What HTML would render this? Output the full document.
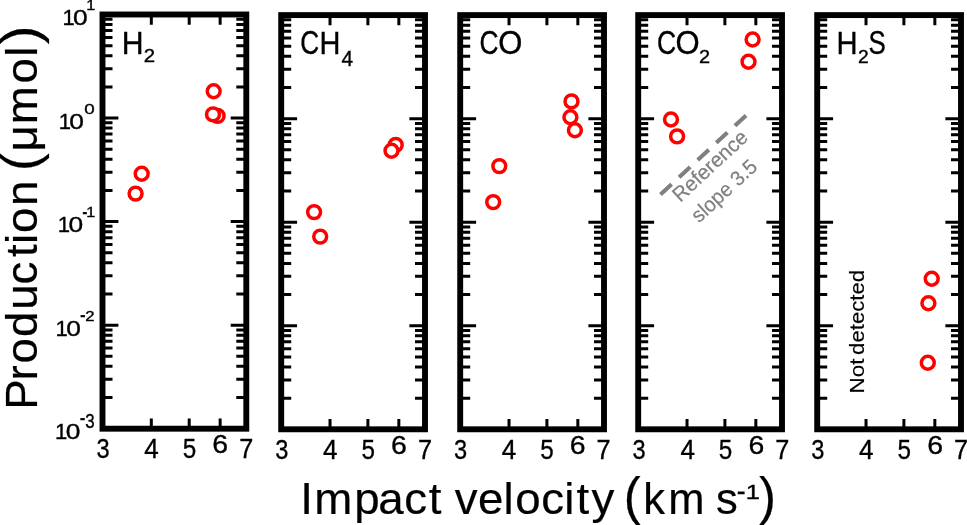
<!DOCTYPE html>
<html lang="en"><head><meta charset="utf-8"><title>Gas production vs impact velocity</title>
<style>
html,body{margin:0;padding:0;background:#fff}
body{width:967px;height:525px;overflow:hidden}
svg{display:block}
text{font-family:"Liberation Sans",sans-serif;white-space:pre}
</style></head><body>
<svg width="967" height="525" viewBox="0 0 967 525">
<rect width="967" height="525" fill="#fff"/>
<g transform="translate(0.0,0.3)"><path d="M102.5,397.23h10M246.3,397.23h-10M102.5,378.99h10M246.3,378.99h-10M102.5,366.06h10M246.3,366.06h-10M102.5,356.02h10M246.3,356.02h-10M102.5,347.82h10M246.3,347.82h-10M102.5,340.89h10M246.3,340.89h-10M102.5,334.89h10M246.3,334.89h-10M102.5,329.59h10M246.3,329.59h-10M102.5,293.68h10M246.3,293.68h-10M102.5,275.44h10M246.3,275.44h-10M102.5,262.51h10M246.3,262.51h-10M102.5,252.47h10M246.3,252.47h-10M102.5,244.27h10M246.3,244.27h-10M102.5,237.34h10M246.3,237.34h-10M102.5,231.34h10M246.3,231.34h-10M102.5,226.04h10M246.3,226.04h-10M102.5,190.13h10M246.3,190.13h-10M102.5,171.89h10M246.3,171.89h-10M102.5,158.96h10M246.3,158.96h-10M102.5,148.92h10M246.3,148.92h-10M102.5,140.72h10M246.3,140.72h-10M102.5,133.79h10M246.3,133.79h-10M102.5,127.79h10M246.3,127.79h-10M102.5,122.49h10M246.3,122.49h-10M102.5,86.58h10M246.3,86.58h-10M102.5,68.34h10M246.3,68.34h-10M102.5,55.41h10M246.3,55.41h-10M102.5,45.37h10M246.3,45.37h-10M102.5,37.17h10M246.3,37.17h-10M102.5,30.24h10M246.3,30.24h-10M102.5,24.24h10M246.3,24.24h-10M102.5,18.94h10M246.3,18.94h-10M102.5,324.85h15.9M246.3,324.85h-15.6M102.5,221.30h15.9M246.3,221.30h-15.6M102.5,117.75h15.9M246.3,117.75h-15.6M151.32,14.2v10.2M151.32,428.4v-10.2M189.20,14.2v10.2M189.20,428.4v-10.2M220.14,14.2v10.2M220.14,428.4v-10.2" stroke="#000" stroke-width="3.0" fill="none"/><rect x="102.5" y="14.2" width="143.80" height="414.20" fill="none" stroke="#000" stroke-width="5.9"/></g>
<g transform="translate(178.7,0.9)"><path d="M102.5,397.23h10M246.3,397.23h-10M102.5,378.99h10M246.3,378.99h-10M102.5,366.06h10M246.3,366.06h-10M102.5,356.02h10M246.3,356.02h-10M102.5,347.82h10M246.3,347.82h-10M102.5,340.89h10M246.3,340.89h-10M102.5,334.89h10M246.3,334.89h-10M102.5,329.59h10M246.3,329.59h-10M102.5,293.68h10M246.3,293.68h-10M102.5,275.44h10M246.3,275.44h-10M102.5,262.51h10M246.3,262.51h-10M102.5,252.47h10M246.3,252.47h-10M102.5,244.27h10M246.3,244.27h-10M102.5,237.34h10M246.3,237.34h-10M102.5,231.34h10M246.3,231.34h-10M102.5,226.04h10M246.3,226.04h-10M102.5,190.13h10M246.3,190.13h-10M102.5,171.89h10M246.3,171.89h-10M102.5,158.96h10M246.3,158.96h-10M102.5,148.92h10M246.3,148.92h-10M102.5,140.72h10M246.3,140.72h-10M102.5,133.79h10M246.3,133.79h-10M102.5,127.79h10M246.3,127.79h-10M102.5,122.49h10M246.3,122.49h-10M102.5,86.58h10M246.3,86.58h-10M102.5,68.34h10M246.3,68.34h-10M102.5,55.41h10M246.3,55.41h-10M102.5,45.37h10M246.3,45.37h-10M102.5,37.17h10M246.3,37.17h-10M102.5,30.24h10M246.3,30.24h-10M102.5,24.24h10M246.3,24.24h-10M102.5,18.94h10M246.3,18.94h-10M102.5,324.85h15.9M246.3,324.85h-15.6M102.5,221.30h15.9M246.3,221.30h-15.6M102.5,117.75h15.9M246.3,117.75h-15.6M151.32,14.2v10.2M151.32,428.4v-10.2M189.20,14.2v10.2M189.20,428.4v-10.2M220.14,14.2v10.2M220.14,428.4v-10.2" stroke="#000" stroke-width="3.0" fill="none"/><rect x="102.5" y="14.2" width="143.80" height="414.20" fill="none" stroke="#000" stroke-width="5.9"/></g>
<g transform="translate(357.7,0.9)"><path d="M102.5,397.23h10M246.3,397.23h-10M102.5,378.99h10M246.3,378.99h-10M102.5,366.06h10M246.3,366.06h-10M102.5,356.02h10M246.3,356.02h-10M102.5,347.82h10M246.3,347.82h-10M102.5,340.89h10M246.3,340.89h-10M102.5,334.89h10M246.3,334.89h-10M102.5,329.59h10M246.3,329.59h-10M102.5,293.68h10M246.3,293.68h-10M102.5,275.44h10M246.3,275.44h-10M102.5,262.51h10M246.3,262.51h-10M102.5,252.47h10M246.3,252.47h-10M102.5,244.27h10M246.3,244.27h-10M102.5,237.34h10M246.3,237.34h-10M102.5,231.34h10M246.3,231.34h-10M102.5,226.04h10M246.3,226.04h-10M102.5,190.13h10M246.3,190.13h-10M102.5,171.89h10M246.3,171.89h-10M102.5,158.96h10M246.3,158.96h-10M102.5,148.92h10M246.3,148.92h-10M102.5,140.72h10M246.3,140.72h-10M102.5,133.79h10M246.3,133.79h-10M102.5,127.79h10M246.3,127.79h-10M102.5,122.49h10M246.3,122.49h-10M102.5,86.58h10M246.3,86.58h-10M102.5,68.34h10M246.3,68.34h-10M102.5,55.41h10M246.3,55.41h-10M102.5,45.37h10M246.3,45.37h-10M102.5,37.17h10M246.3,37.17h-10M102.5,30.24h10M246.3,30.24h-10M102.5,24.24h10M246.3,24.24h-10M102.5,18.94h10M246.3,18.94h-10M102.5,324.85h15.9M246.3,324.85h-15.6M102.5,221.30h15.9M246.3,221.30h-15.6M102.5,117.75h15.9M246.3,117.75h-15.6M151.32,14.2v10.2M151.32,428.4v-10.2M189.20,14.2v10.2M189.20,428.4v-10.2M220.14,14.2v10.2M220.14,428.4v-10.2" stroke="#000" stroke-width="3.0" fill="none"/><rect x="102.5" y="14.2" width="143.80" height="414.20" fill="none" stroke="#000" stroke-width="5.9"/></g>
<g transform="translate(535.7,0.9)"><path d="M102.5,397.23h10M246.3,397.23h-10M102.5,378.99h10M246.3,378.99h-10M102.5,366.06h10M246.3,366.06h-10M102.5,356.02h10M246.3,356.02h-10M102.5,347.82h10M246.3,347.82h-10M102.5,340.89h10M246.3,340.89h-10M102.5,334.89h10M246.3,334.89h-10M102.5,329.59h10M246.3,329.59h-10M102.5,293.68h10M246.3,293.68h-10M102.5,275.44h10M246.3,275.44h-10M102.5,262.51h10M246.3,262.51h-10M102.5,252.47h10M246.3,252.47h-10M102.5,244.27h10M246.3,244.27h-10M102.5,237.34h10M246.3,237.34h-10M102.5,231.34h10M246.3,231.34h-10M102.5,226.04h10M246.3,226.04h-10M102.5,190.13h10M246.3,190.13h-10M102.5,171.89h10M246.3,171.89h-10M102.5,158.96h10M246.3,158.96h-10M102.5,148.92h10M246.3,148.92h-10M102.5,140.72h10M246.3,140.72h-10M102.5,133.79h10M246.3,133.79h-10M102.5,127.79h10M246.3,127.79h-10M102.5,122.49h10M246.3,122.49h-10M102.5,86.58h10M246.3,86.58h-10M102.5,68.34h10M246.3,68.34h-10M102.5,55.41h10M246.3,55.41h-10M102.5,45.37h10M246.3,45.37h-10M102.5,37.17h10M246.3,37.17h-10M102.5,30.24h10M246.3,30.24h-10M102.5,24.24h10M246.3,24.24h-10M102.5,18.94h10M246.3,18.94h-10M102.5,324.85h15.9M246.3,324.85h-15.6M102.5,221.30h15.9M246.3,221.30h-15.6M102.5,117.75h15.9M246.3,117.75h-15.6M151.32,14.2v10.2M151.32,428.4v-10.2M189.20,14.2v10.2M189.20,428.4v-10.2M220.14,14.2v10.2M220.14,428.4v-10.2" stroke="#000" stroke-width="3.0" fill="none"/><rect x="102.5" y="14.2" width="143.80" height="414.20" fill="none" stroke="#000" stroke-width="5.9"/></g>
<g transform="translate(714.7,0.9)"><path d="M102.5,397.23h10M246.3,397.23h-10M102.5,378.99h10M246.3,378.99h-10M102.5,366.06h10M246.3,366.06h-10M102.5,356.02h10M246.3,356.02h-10M102.5,347.82h10M246.3,347.82h-10M102.5,340.89h10M246.3,340.89h-10M102.5,334.89h10M246.3,334.89h-10M102.5,329.59h10M246.3,329.59h-10M102.5,293.68h10M246.3,293.68h-10M102.5,275.44h10M246.3,275.44h-10M102.5,262.51h10M246.3,262.51h-10M102.5,252.47h10M246.3,252.47h-10M102.5,244.27h10M246.3,244.27h-10M102.5,237.34h10M246.3,237.34h-10M102.5,231.34h10M246.3,231.34h-10M102.5,226.04h10M246.3,226.04h-10M102.5,190.13h10M246.3,190.13h-10M102.5,171.89h10M246.3,171.89h-10M102.5,158.96h10M246.3,158.96h-10M102.5,148.92h10M246.3,148.92h-10M102.5,140.72h10M246.3,140.72h-10M102.5,133.79h10M246.3,133.79h-10M102.5,127.79h10M246.3,127.79h-10M102.5,122.49h10M246.3,122.49h-10M102.5,86.58h10M246.3,86.58h-10M102.5,68.34h10M246.3,68.34h-10M102.5,55.41h10M246.3,55.41h-10M102.5,45.37h10M246.3,45.37h-10M102.5,37.17h10M246.3,37.17h-10M102.5,30.24h10M246.3,30.24h-10M102.5,24.24h10M246.3,24.24h-10M102.5,18.94h10M246.3,18.94h-10M102.5,324.85h15.9M246.3,324.85h-15.6M102.5,221.30h15.9M246.3,221.30h-15.6M102.5,117.75h15.9M246.3,117.75h-15.6M151.32,14.2v10.2M151.32,428.4v-10.2M189.20,14.2v10.2M189.20,428.4v-10.2M220.14,14.2v10.2M220.14,428.4v-10.2" stroke="#000" stroke-width="3.0" fill="none"/><rect x="102.5" y="14.2" width="143.80" height="414.20" fill="none" stroke="#000" stroke-width="5.9"/></g>
<text fill="#000" stroke="#000"><tspan x="96.50" y="458.41" font-size="28.53" textLength="13.14" lengthAdjust="spacingAndGlyphs" stroke-width="0.35">3</tspan></text>
<text fill="#000" stroke="#000"><tspan x="144.30" y="457.90" font-size="27.33" textLength="14.46" lengthAdjust="spacingAndGlyphs" stroke-width="0.35">4</tspan></text>
<text fill="#000" stroke="#000"><tspan x="182.73" y="458.42" font-size="28.37" textLength="13.49" lengthAdjust="spacingAndGlyphs" stroke-width="0.35">5</tspan></text>
<text fill="#000" stroke="#000"><tspan x="212.35" y="453.33" font-size="26.55" textLength="15.80" lengthAdjust="spacingAndGlyphs" stroke-width="0.35">6</tspan></text>
<text fill="#000" stroke="#000"><tspan x="239.21" y="458.20" font-size="27.62" textLength="14.06" lengthAdjust="spacingAndGlyphs" stroke-width="0.35">7</tspan></text>
<text fill="#000" stroke="#000"><tspan x="275.20" y="459.11" font-size="28.53" textLength="13.14" lengthAdjust="spacingAndGlyphs" stroke-width="0.35">3</tspan></text>
<text fill="#000" stroke="#000"><tspan x="323.00" y="458.60" font-size="27.33" textLength="14.46" lengthAdjust="spacingAndGlyphs" stroke-width="0.35">4</tspan></text>
<text fill="#000" stroke="#000"><tspan x="361.43" y="459.12" font-size="28.37" textLength="13.49" lengthAdjust="spacingAndGlyphs" stroke-width="0.35">5</tspan></text>
<text fill="#000" stroke="#000"><tspan x="391.05" y="454.03" font-size="26.55" textLength="15.80" lengthAdjust="spacingAndGlyphs" stroke-width="0.35">6</tspan></text>
<text fill="#000" stroke="#000"><tspan x="417.91" y="458.90" font-size="27.62" textLength="14.06" lengthAdjust="spacingAndGlyphs" stroke-width="0.35">7</tspan></text>
<text fill="#000" stroke="#000"><tspan x="453.90" y="459.11" font-size="28.53" textLength="13.14" lengthAdjust="spacingAndGlyphs" stroke-width="0.35">3</tspan></text>
<text fill="#000" stroke="#000"><tspan x="501.70" y="458.60" font-size="27.33" textLength="14.46" lengthAdjust="spacingAndGlyphs" stroke-width="0.35">4</tspan></text>
<text fill="#000" stroke="#000"><tspan x="540.13" y="459.12" font-size="28.37" textLength="13.49" lengthAdjust="spacingAndGlyphs" stroke-width="0.35">5</tspan></text>
<text fill="#000" stroke="#000"><tspan x="569.75" y="454.03" font-size="26.55" textLength="15.80" lengthAdjust="spacingAndGlyphs" stroke-width="0.35">6</tspan></text>
<text fill="#000" stroke="#000"><tspan x="596.61" y="458.90" font-size="27.62" textLength="14.06" lengthAdjust="spacingAndGlyphs" stroke-width="0.35">7</tspan></text>
<text fill="#000" stroke="#000"><tspan x="632.60" y="459.11" font-size="28.53" textLength="13.14" lengthAdjust="spacingAndGlyphs" stroke-width="0.35">3</tspan></text>
<text fill="#000" stroke="#000"><tspan x="680.40" y="458.60" font-size="27.33" textLength="14.46" lengthAdjust="spacingAndGlyphs" stroke-width="0.35">4</tspan></text>
<text fill="#000" stroke="#000"><tspan x="718.83" y="459.12" font-size="28.37" textLength="13.49" lengthAdjust="spacingAndGlyphs" stroke-width="0.35">5</tspan></text>
<text fill="#000" stroke="#000"><tspan x="748.45" y="454.03" font-size="26.55" textLength="15.80" lengthAdjust="spacingAndGlyphs" stroke-width="0.35">6</tspan></text>
<text fill="#000" stroke="#000"><tspan x="775.31" y="458.90" font-size="27.62" textLength="14.06" lengthAdjust="spacingAndGlyphs" stroke-width="0.35">7</tspan></text>
<text fill="#000" stroke="#000"><tspan x="811.30" y="459.11" font-size="28.53" textLength="13.14" lengthAdjust="spacingAndGlyphs" stroke-width="0.35">3</tspan></text>
<text fill="#000" stroke="#000"><tspan x="859.10" y="458.60" font-size="27.33" textLength="14.46" lengthAdjust="spacingAndGlyphs" stroke-width="0.35">4</tspan></text>
<text fill="#000" stroke="#000"><tspan x="897.53" y="459.12" font-size="28.37" textLength="13.49" lengthAdjust="spacingAndGlyphs" stroke-width="0.35">5</tspan></text>
<text fill="#000" stroke="#000"><tspan x="927.15" y="454.03" font-size="26.55" textLength="15.80" lengthAdjust="spacingAndGlyphs" stroke-width="0.35">6</tspan></text>
<text fill="#000" stroke="#000"><tspan x="954.01" y="458.90" font-size="27.62" textLength="14.06" lengthAdjust="spacingAndGlyphs" stroke-width="0.35">7</tspan></text>
<text fill="#000" stroke="#000"><tspan x="62.42" y="25.30" font-size="21.80" textLength="12.26" lengthAdjust="spacingAndGlyphs" stroke-width="0.35">1</tspan><tspan x="72.97" y="25.28" font-size="21.75" textLength="14.66" lengthAdjust="spacingAndGlyphs" stroke-width="0.35">0</tspan><tspan x="86.27" y="10.10" font-size="14.53" textLength="9.03" lengthAdjust="spacingAndGlyphs" stroke-width="0.35">1</tspan></text>
<text fill="#000" stroke="#000"><tspan x="58.72" y="128.85" font-size="21.80" textLength="12.26" lengthAdjust="spacingAndGlyphs" stroke-width="0.35">1</tspan><tspan x="69.37" y="128.83" font-size="21.75" textLength="14.66" lengthAdjust="spacingAndGlyphs" stroke-width="0.35">0</tspan><tspan x="84.17" y="114.00" font-size="14.97" textLength="10.47" lengthAdjust="spacingAndGlyphs" stroke-width="0.35">0</tspan></text>
<text fill="#000" stroke="#000"><tspan x="57.72" y="232.40" font-size="21.80" textLength="12.26" lengthAdjust="spacingAndGlyphs" stroke-width="0.35">1</tspan><tspan x="68.47" y="232.38" font-size="21.75" textLength="14.66" lengthAdjust="spacingAndGlyphs" stroke-width="0.35">0</tspan><tspan x="82.30" y="218.64" font-size="23.08" textLength="5.30" lengthAdjust="spacingAndGlyphs" stroke-width="0.35">-</tspan><tspan x="86.37" y="217.30" font-size="14.53" textLength="9.03" lengthAdjust="spacingAndGlyphs" stroke-width="0.35">1</tspan></text>
<text fill="#000" stroke="#000"><tspan x="55.52" y="335.95" font-size="21.80" textLength="12.26" lengthAdjust="spacingAndGlyphs" stroke-width="0.35">1</tspan><tspan x="66.27" y="335.93" font-size="21.75" textLength="14.66" lengthAdjust="spacingAndGlyphs" stroke-width="0.35">0</tspan><tspan x="80.05" y="322.38" font-size="24.36" textLength="5.71" lengthAdjust="spacingAndGlyphs" stroke-width="0.35">-</tspan><tspan x="85.37" y="320.85" font-size="14.47" textLength="9.27" lengthAdjust="spacingAndGlyphs" stroke-width="0.35">2</tspan></text>
<text fill="#000" stroke="#000"><tspan x="55.12" y="439.10" font-size="21.80" textLength="12.26" lengthAdjust="spacingAndGlyphs" stroke-width="0.35">1</tspan><tspan x="65.67" y="439.08" font-size="21.75" textLength="14.66" lengthAdjust="spacingAndGlyphs" stroke-width="0.35">0</tspan><tspan x="79.75" y="425.34" font-size="23.08" textLength="5.71" lengthAdjust="spacingAndGlyphs" stroke-width="0.35">-</tspan><tspan x="85.16" y="427.61" font-size="19.35" textLength="9.39" lengthAdjust="spacingAndGlyphs" stroke-width="0.35">3</tspan></text>
<text fill="#000" stroke="#000"><tspan x="121.82" y="53.80" font-size="31.25" textLength="21.83" lengthAdjust="spacingAndGlyphs" stroke-width="0.35">H</tspan><tspan x="143.68" y="61.90" font-size="18.05" textLength="11.34" lengthAdjust="spacingAndGlyphs" stroke-width="0.35">2</tspan></text>
<text fill="#000" stroke="#000"><tspan x="300.16" y="54.28" font-size="32.49" textLength="18.94" lengthAdjust="spacingAndGlyphs" stroke-width="0.35">C</tspan><tspan x="319.62" y="53.80" font-size="31.25" textLength="20.93" lengthAdjust="spacingAndGlyphs" stroke-width="0.35">H</tspan><tspan x="341.42" y="65.60" font-size="22.09" textLength="11.59" lengthAdjust="spacingAndGlyphs" stroke-width="0.35">4</tspan></text>
<text fill="#000" stroke="#000"><tspan x="479.45" y="54.28" font-size="32.49" textLength="19.05" lengthAdjust="spacingAndGlyphs" stroke-width="0.35">C</tspan><tspan x="498.14" y="54.28" font-size="32.49" textLength="24.14" lengthAdjust="spacingAndGlyphs" stroke-width="0.35">O</tspan></text>
<text fill="#000" stroke="#000"><tspan x="657.05" y="54.28" font-size="32.49" textLength="19.17" lengthAdjust="spacingAndGlyphs" stroke-width="0.35">C</tspan><tspan x="675.54" y="54.28" font-size="32.49" textLength="24.14" lengthAdjust="spacingAndGlyphs" stroke-width="0.35">O</tspan><tspan x="699.10" y="63.00" font-size="18.05" textLength="11.10" lengthAdjust="spacingAndGlyphs" stroke-width="0.35">2</tspan></text>
<text fill="#000" stroke="#000"><tspan x="836.51" y="53.80" font-size="31.25" textLength="21.06" lengthAdjust="spacingAndGlyphs" stroke-width="0.35">H</tspan><tspan x="858.14" y="63.00" font-size="18.05" textLength="10.73" lengthAdjust="spacingAndGlyphs" stroke-width="0.35">2</tspan><tspan x="868.61" y="54.28" font-size="32.49" textLength="17.28" lengthAdjust="spacingAndGlyphs" stroke-width="0.35">S</tspan></text>
<circle cx="213.7" cy="91.2" r="6.45" fill="#fff" stroke="#f00" stroke-width="3.5"/>
<circle cx="217.6" cy="115.9" r="6.45" fill="#fff" stroke="#f00" stroke-width="3.5"/>
<circle cx="213.0" cy="114.4" r="6.45" fill="#fff" stroke="#f00" stroke-width="3.5"/>
<circle cx="141.7" cy="173.8" r="6.45" fill="#fff" stroke="#f00" stroke-width="3.5"/>
<circle cx="135.6" cy="193.6" r="6.45" fill="#fff" stroke="#f00" stroke-width="3.5"/>
<circle cx="395.7" cy="144.9" r="6.45" fill="#fff" stroke="#f00" stroke-width="3.5"/>
<circle cx="391.5" cy="150.7" r="6.45" fill="#fff" stroke="#f00" stroke-width="3.5"/>
<circle cx="314.1" cy="212.1" r="6.45" fill="#fff" stroke="#f00" stroke-width="3.5"/>
<circle cx="320.2" cy="236.6" r="6.45" fill="#fff" stroke="#f00" stroke-width="3.5"/>
<circle cx="571.5" cy="101.4" r="6.45" fill="#fff" stroke="#f00" stroke-width="3.5"/>
<circle cx="574.9" cy="130.2" r="6.45" fill="#fff" stroke="#f00" stroke-width="3.5"/>
<circle cx="570.4" cy="117.2" r="6.45" fill="#fff" stroke="#f00" stroke-width="3.5"/>
<circle cx="499.3" cy="166.1" r="6.45" fill="#fff" stroke="#f00" stroke-width="3.5"/>
<circle cx="493.2" cy="202.1" r="6.45" fill="#fff" stroke="#f00" stroke-width="3.5"/>
<circle cx="752.6" cy="39.5" r="6.45" fill="#fff" stroke="#f00" stroke-width="3.5"/>
<circle cx="748.5" cy="61.8" r="6.45" fill="#fff" stroke="#f00" stroke-width="3.5"/>
<circle cx="671.0" cy="119.5" r="6.45" fill="#fff" stroke="#f00" stroke-width="3.5"/>
<circle cx="677.1" cy="136.4" r="6.45" fill="#fff" stroke="#f00" stroke-width="3.5"/>
<circle cx="931.7" cy="278.8" r="6.45" fill="#fff" stroke="#f00" stroke-width="3.5"/>
<circle cx="928.4" cy="303.3" r="6.45" fill="#fff" stroke="#f00" stroke-width="3.5"/>
<circle cx="927.8" cy="362.7" r="6.45" fill="#fff" stroke="#f00" stroke-width="3.5"/>
<path d="M660.5,194.5L746.1,115.3" stroke="#808080" stroke-width="4.1" stroke-dasharray="15.1 10.25" fill="none"/>
<text transform="rotate(-90)" fill="#000" stroke="#000"><tspan x="-409.69" y="36.60" font-size="43.50" textLength="30.47" lengthAdjust="spacingAndGlyphs" stroke-width="0.2">P</tspan><tspan x="-380.42" y="36.60" font-size="43.50" textLength="15.21" lengthAdjust="spacingAndGlyphs" stroke-width="0.2">r</tspan><tspan x="-363.40" y="36.60" font-size="43.50" textLength="25.40" lengthAdjust="spacingAndGlyphs" stroke-width="0.2">o</tspan><tspan x="-336.90" y="36.60" font-size="43.50" textLength="25.40" lengthAdjust="spacingAndGlyphs" stroke-width="0.2">d</tspan><tspan x="-309.72" y="36.60" font-size="43.50" textLength="25.40" lengthAdjust="spacingAndGlyphs" stroke-width="0.2">u</tspan><tspan x="-284.53" y="36.60" font-size="43.50" textLength="22.84" lengthAdjust="spacingAndGlyphs" stroke-width="0.2">c</tspan><tspan x="-257.08" y="36.60" font-size="43.50" textLength="12.69" lengthAdjust="spacingAndGlyphs" stroke-width="0.2">t</tspan><tspan x="-243.97" y="36.60" font-size="43.50" textLength="10.15" lengthAdjust="spacingAndGlyphs" stroke-width="0.2">i</tspan><tspan x="-232.90" y="36.60" font-size="43.50" textLength="25.40" lengthAdjust="spacingAndGlyphs" stroke-width="0.2">o</tspan><tspan x="-206.02" y="36.60" font-size="43.50" textLength="25.40" lengthAdjust="spacingAndGlyphs" stroke-width="0.2">n</tspan> <tspan x="-171.12" y="37.83" font-size="51.07" textLength="17.84" lengthAdjust="spacingAndGlyphs" stroke-width="0.2">(</tspan><tspan x="-151.52" y="36.60" font-size="43.50" textLength="26.32" lengthAdjust="spacingAndGlyphs" stroke-width="0.2">μ</tspan><tspan x="-124.37" y="36.60" font-size="43.50" textLength="38.05" lengthAdjust="spacingAndGlyphs" stroke-width="0.2">m</tspan><tspan x="-83.55" y="36.60" font-size="43.50" textLength="25.40" lengthAdjust="spacingAndGlyphs" stroke-width="0.2">o</tspan><tspan x="-56.72" y="36.60" font-size="43.50" textLength="10.15" lengthAdjust="spacingAndGlyphs" stroke-width="0.2">l</tspan><tspan x="-44.34" y="37.83" font-size="51.07" textLength="18.60" lengthAdjust="spacingAndGlyphs" stroke-width="0.2">)</tspan></text>
<text fill="#000" stroke="#000"><tspan x="300.15" y="513.70" font-size="43.50" textLength="12.69" lengthAdjust="spacingAndGlyphs" stroke-width="0.2">I</tspan><tspan x="314.33" y="513.70" font-size="43.50" textLength="38.05" lengthAdjust="spacingAndGlyphs" stroke-width="0.2">m</tspan><tspan x="354.20" y="513.70" font-size="43.50" textLength="25.40" lengthAdjust="spacingAndGlyphs" stroke-width="0.2">p</tspan><tspan x="378.24" y="513.70" font-size="43.50" textLength="25.40" lengthAdjust="spacingAndGlyphs" stroke-width="0.2">a</tspan><tspan x="404.17" y="513.70" font-size="43.50" textLength="22.84" lengthAdjust="spacingAndGlyphs" stroke-width="0.2">c</tspan><tspan x="428.72" y="513.70" font-size="43.50" textLength="12.69" lengthAdjust="spacingAndGlyphs" stroke-width="0.2">t</tspan> <tspan x="454.73" y="513.70" font-size="43.50" textLength="22.84" lengthAdjust="spacingAndGlyphs" stroke-width="0.2">v</tspan><tspan x="478.00" y="513.70" font-size="43.50" textLength="25.40" lengthAdjust="spacingAndGlyphs" stroke-width="0.2">e</tspan><tspan x="503.43" y="513.70" font-size="43.50" textLength="10.15" lengthAdjust="spacingAndGlyphs" stroke-width="0.2">l</tspan><tspan x="515.20" y="513.70" font-size="43.50" textLength="25.40" lengthAdjust="spacingAndGlyphs" stroke-width="0.2">o</tspan><tspan x="541.22" y="513.70" font-size="43.50" textLength="22.84" lengthAdjust="spacingAndGlyphs" stroke-width="0.2">c</tspan><tspan x="564.23" y="513.70" font-size="43.50" textLength="10.15" lengthAdjust="spacingAndGlyphs" stroke-width="0.2">i</tspan><tspan x="576.47" y="513.70" font-size="43.50" textLength="12.69" lengthAdjust="spacingAndGlyphs" stroke-width="0.2">t</tspan><tspan x="591.41" y="513.70" font-size="43.50" textLength="22.84" lengthAdjust="spacingAndGlyphs" stroke-width="0.2">y</tspan> <tspan x="623.74" y="514.13" font-size="51.07" textLength="16.96" lengthAdjust="spacingAndGlyphs" stroke-width="0.2">(</tspan><tspan x="643.15" y="513.70" font-size="43.50" textLength="21.75" lengthAdjust="spacingAndGlyphs" stroke-width="0.2">k</tspan><tspan x="668.18" y="513.70" font-size="43.50" textLength="36.24" lengthAdjust="spacingAndGlyphs" stroke-width="0.2">m</tspan> <tspan x="716.05" y="513.70" font-size="43.50" textLength="21.75" lengthAdjust="spacingAndGlyphs" stroke-width="0.2">s</tspan><tspan x="736.63" y="500.59" font-size="29.49" textLength="8.84" lengthAdjust="spacingAndGlyphs" stroke-width="0.35">-</tspan><tspan x="745.88" y="499.40" font-size="19.48" textLength="14.07" lengthAdjust="spacingAndGlyphs" stroke-width="0.35">1</tspan><tspan x="758.89" y="514.13" font-size="51.07" textLength="16.96" lengthAdjust="spacingAndGlyphs" stroke-width="0.2">)</tspan></text>
<text transform="rotate(-90)" fill="#000" stroke="#000"><tspan x="-393.44" y="864.30" font-size="20.80" textLength="34.90" lengthAdjust="spacingAndGlyphs" stroke-width="0.15">Not</tspan> <tspan x="-354.93" y="864.30" font-size="20.80" textLength="85.06" lengthAdjust="spacingAndGlyphs" stroke-width="0.15">detected</tspan></text>
<g transform="translate(681.2,201.6) rotate(-42.8)">
<text fill="#808080" stroke="#808080"><tspan x="-1.67" y="0.30" font-size="20.80" textLength="94.06" lengthAdjust="spacingAndGlyphs" stroke-width="0.2">Reference</tspan></text>
<text fill="#808080" stroke="#808080"><tspan x="-1.76" y="28.20" font-size="20.80" textLength="81.11" lengthAdjust="spacingAndGlyphs" stroke-width="0.2">slope 3.5</tspan></text>
</g>
</svg>
</body></html>
